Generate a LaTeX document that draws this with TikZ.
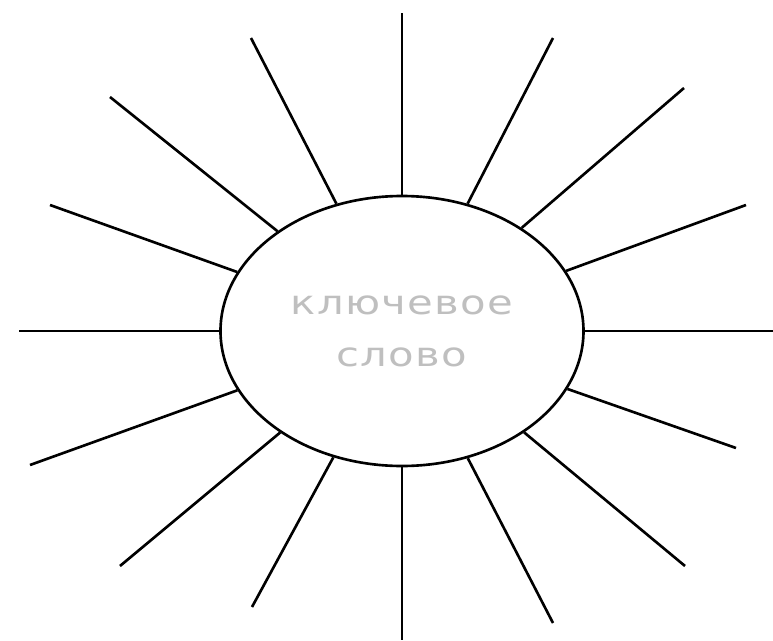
\documentclass[tikz,border=0pt]{standalone}
\usepackage{fontspec}
\usetikzlibrary{shapes.geometric}
% шрифт для надписи в центре
\newfontfamily\kwfont[FakeStretch=1.25, LetterSpace=4]{DejaVu Sans}

\begin{document}
\begin{tikzpicture}[line width=0.75pt]

    % --- рамка рисунка ---
    \useasboundingbox (0, 0) rectangle (7.73, 6.40);

    % --- 1. центральный овал ---
    \node[ellipse, draw, inner sep=0pt,
          minimum width=3.63cm, minimum height=2.70cm,
          align=center, text=black!25,
          font=\kwfont\fontsize{9.5}{14.8}\selectfont]
        (kw) at (4.02, 3.09) {ключевое\\слово};

    % --- 2. концы лучей ---
    % по часовой стрелке, начиная сверху
    \coordinate (r1)  at (4.02, 6.27);
    \coordinate (r2)  at (5.53, 6.02);
    \coordinate (r3)  at (6.84, 5.52);
    \coordinate (r4)  at (7.46, 4.35);
    \coordinate (r5)  at (7.73, 3.09);
    \coordinate (r6)  at (7.36, 1.92);
    \coordinate (r7)  at (6.85, 0.74);
    \coordinate (r8)  at (5.53, 0.17);
    \coordinate (r9)  at (4.02, 0.00);
    \coordinate (r10) at (2.52, 0.33);
    \coordinate (r11) at (1.20, 0.74);
    \coordinate (r12) at (0.30, 1.75);
    \coordinate (r13) at (0.19, 3.09);
    \coordinate (r14) at (0.50, 4.35);
    \coordinate (r15) at (1.10, 5.43);
    \coordinate (r16) at (2.51, 6.02);

    % --- 3. лучи от овала ---
    \foreach \i in {1,...,16}
        \draw (kw) -- (r\i);

\end{tikzpicture}
\end{document}
